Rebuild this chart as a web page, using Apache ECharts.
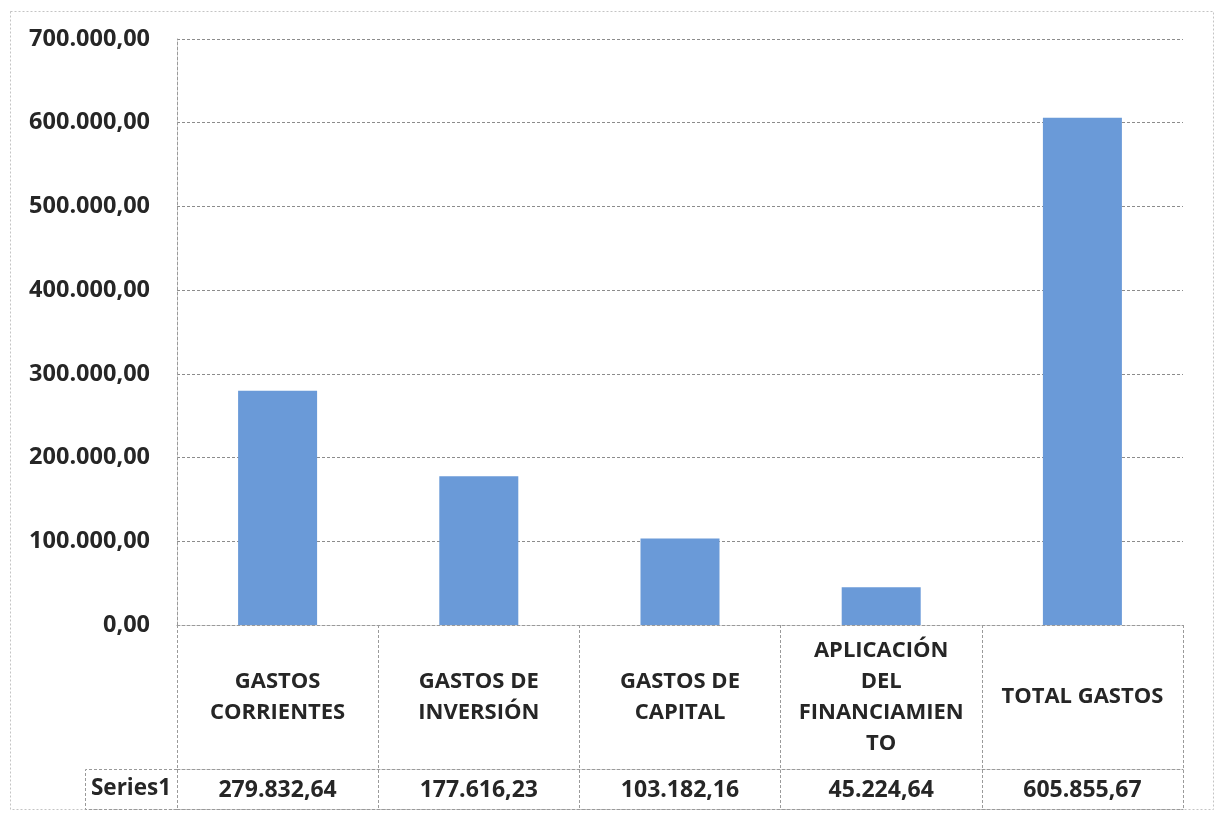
<!DOCTYPE html>
<html>
<head>
<meta charset="utf-8">
<script src="https://cdn.jsdelivr.net/npm/echarts@6/dist/echarts.min.js"></script>
<style>
html,body{margin:0;padding:0;background:#fff;}
#chart{width:1219px;height:814px;}
</style>
</head>
<body>
<div id="chart"></div>
<script>
const categories = ['GASTOS\nCORRIENTES', 'GASTOS DE\nINVERSIÓN', 'GASTOS DE\nCAPITAL', 'APLICACIÓN\nDEL\nFINANCIAMIEN\nTO', 'TOTAL GASTOS'];
const seriesName = 'Series1';
const values = [279832.64, 177616.23, 103182.16, 45224.64, 605855.67];
const yMin = 0, yMax = 700000, yInterval = 100000;

function fmt(v) {
  const parts = Number(v).toFixed(2).split('.');
  const intPart = parts[0].replace(/\B(?=(\d{3})+(?!\d))/g, '.');
  return intPart + ',' + parts[1];
}

const FONT = '"Open Sans", "DejaVu Sans", sans-serif';
const TXT = '#262626';
const lineGray = '#9a9a9a';
const dash = [3, 2];

const chart = echarts.init(document.getElementById('chart'), null, {renderer: 'canvas'});
const gridLeft = 177, gridRight = 36, gridTop = 39, gridBottom = 189;
const H = 814;
const zeroY = H - gridBottom; // 625
const rowTop = 769, rowBottom = 809;

chart.setOption({
  backgroundColor: '#fff',
  animation: false,
  grid: {left: gridLeft, right: gridRight, top: gridTop, bottom: gridBottom, containLabel: false},
  xAxis: [
    {
      type: 'category', data: categories, position: 'bottom',
      axisLine: {show: true, lineStyle: {color: lineGray, type: dash, width: 1}},
      axisTick: {show: true, interval: 0, length: rowBottom - zeroY, lineStyle: {color: lineGray, type: dash, width: 1}},
      axisLabel: {interval: 0, margin: 72, verticalAlign: 'middle', lineHeight: 31,
        fontFamily: FONT, fontWeight: 'bold', fontSize: 22, color: TXT}
    },
    {
      type: 'category', data: categories, position: 'bottom', offset: rowTop - zeroY,
      axisLine: {show: true, onZero: false, lineStyle: {color: lineGray, type: dash, width: 1}},
      axisTick: {show: false},
      axisLabel: {interval: 0, margin: 21, verticalAlign: 'middle',
        fontFamily: FONT, fontWeight: 'bold', fontSize: 23, color: TXT,
        formatter: function (v, i) { return fmt(values[i]); }}
    },
    {
      type: 'category', data: categories, position: 'bottom', offset: rowBottom - zeroY,
      axisLine: {show: true, onZero: false, lineStyle: {color: lineGray, type: dash, width: 1}},
      axisTick: {show: false},
      axisLabel: {show: false}
    }
  ],
  yAxis: {
    type: 'value', min: yMin, max: yMax, interval: yInterval,
    axisLine: {show: true, lineStyle: {color: lineGray, type: dash, width: 1}},
    axisTick: {show: false},
    splitLine: {show: true, lineStyle: {color: '#8c8c8c', type: dash, width: 1}},
    axisLabel: {margin: 27, fontFamily: FONT, fontWeight: 'bold', fontSize: 23.5, color: TXT,
      formatter: function (v) { return fmt(v); }}
  },
  series: [{
    name: seriesName, type: 'bar', xAxisIndex: 0, data: values, barWidth: 79,
    itemStyle: {color: '#6a9ad8'}
  }],
  graphic: [
    {type: 'rect', silent: true, z: -1, shape: {x: 10.5, y: 11.5, width: 1203, height: 798},
      style: {fill: 'none', stroke: '#c4c4c4', lineWidth: 1, lineDash: [2, 2]}},
    {type: 'polyline', silent: true, shape: {points: [[177, rowTop + 0.5], [85.5, rowTop + 0.5], [85.5, rowBottom + 0.5], [177, rowBottom + 0.5]]},
      style: {fill: 'none', stroke: lineGray, lineWidth: 1, lineDash: dash}},
    {type: 'text', silent: true, x: 131, y: (rowTop + rowBottom) / 2,
      style: {text: seriesName, fontFamily: FONT, fontWeight: 'bold', fontSize: 22.5, fill: TXT,
        align: 'center', verticalAlign: 'middle'}}
  ]
});
</script>
</body>
</html>
